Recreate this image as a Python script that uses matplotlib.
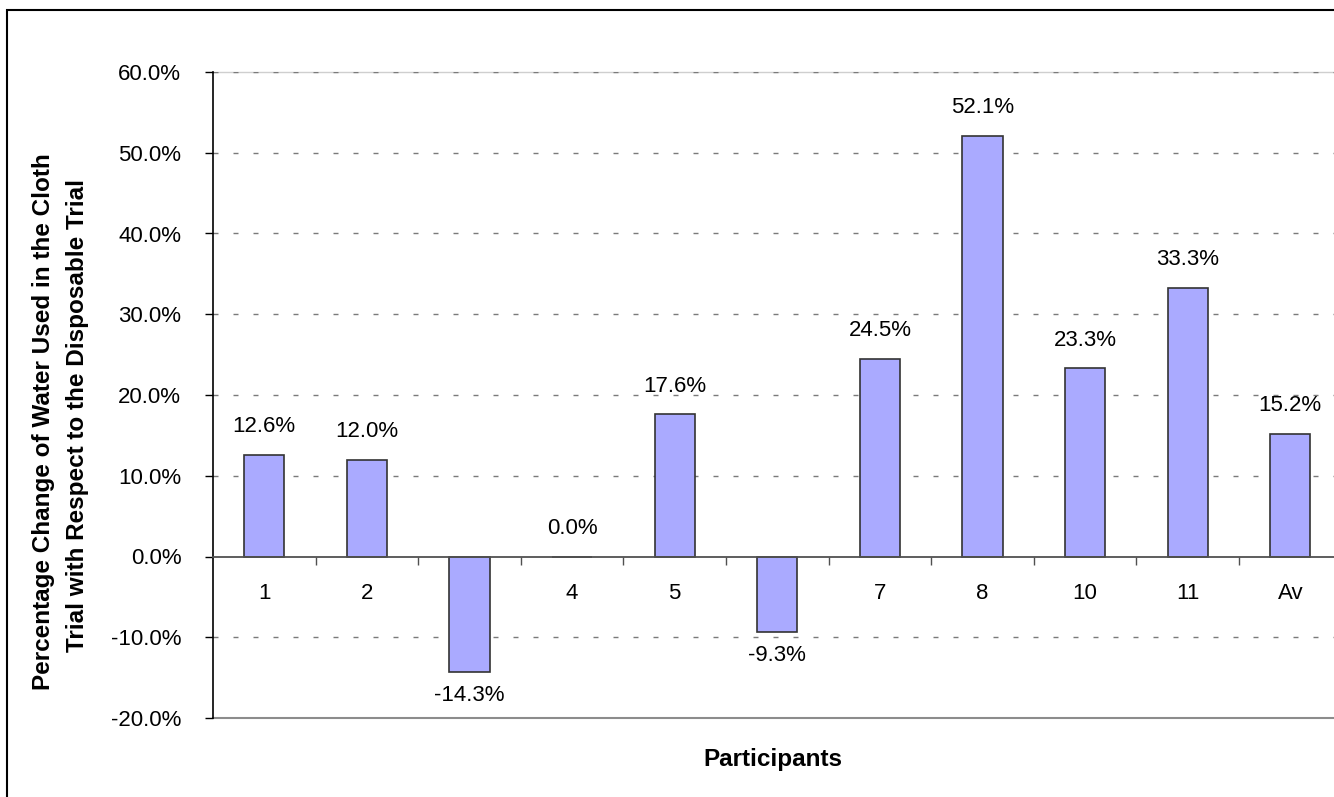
import matplotlib
matplotlib.use("Agg")
import matplotlib.pyplot as plt
from matplotlib.patches import Rectangle
from matplotlib.ticker import FixedLocator, FuncFormatter, NullFormatter

plt.rcParams['font.family'] = ['Liberation Sans', 'DejaVu Sans']

# Percentage change of water used, cloth trial vs disposable trial
participants = ["1", "2", "3", "4", "5", "6", "7", "8", "10", "11", "Av"]
change_pct = [12.6, 12.0, -14.3, 0.0, 17.6, -9.3, 24.5, 52.1, 23.3, 33.3, 15.2]
y_ticks = [-20, -10, 0, 10, 20, 30, 40, 50, 60]

W, H = 1334, 797
fig = plt.figure(figsize=(W / 100, H / 100), dpi=100)
fig.patch.set_facecolor("white")

# outer chart frame
fig.patches.append(Rectangle((7 / W, -0.1), 1.2, 1.1 - 10 / H,
                             transform=fig.transFigure, fill=False,
                             edgecolor="black", linewidth=1.5))

left, right = 213 / W, 1341.6 / W
top, bottom = 1 - 72 / H, 1 - 718 / H
ax = fig.add_axes([left, bottom, right - left, top - bottom])
ax.set_facecolor("white")

x = list(range(len(participants)))
ax.bar(x, change_pct, width=0.39, color="#AAAAFF", edgecolor="#333333",
       linewidth=1.2, zorder=2)

ax.set_xlim(-0.5, len(participants) - 0.5)
ax.set_ylim(-20, 60)

# horizontal dashed gridlines
for v in y_ticks:
    if v in (0, -20):
        continue
    ax.axhline(v, color="#7a7a7a", linewidth=1.0, dashes=(3.6, 10.8), zorder=1)
ax.axhline(60, color="#cfcfcf", linewidth=1.0, zorder=0.9, clip_on=False)
ax.axhline(-20, color="#8c8c8c", linewidth=1.5, zorder=1, clip_on=False)

# spines
for s in ("top", "right"):
    ax.spines[s].set_visible(False)
ax.spines["left"].set_color("black")
ax.spines["left"].set_linewidth(1.2)
ax.spines["bottom"].set_position(("data", 0))
ax.spines["bottom"].set_color("#505050")
ax.spines["bottom"].set_linewidth(1.3)
ax.spines["bottom"].set_zorder(3)

FS = 16
# y axis ticks
ax.set_yticks(y_ticks)
ax.yaxis.set_major_formatter(FuncFormatter(lambda v, p: f"{v:.1f}%"))
ax.tick_params(axis="y", direction="out", length=5.8, width=1.0,
               color="black", labelsize=FS, pad=17)

# x axis: tick marks between categories, labels at category centres
ax.xaxis.set_major_locator(FixedLocator([i + 0.5 for i in range(len(x) - 1)]))
ax.xaxis.set_major_formatter(NullFormatter())
ax.xaxis.set_minor_locator(FixedLocator(x))
ax.set_xticklabels(participants, minor=True)
ax.tick_params(axis="x", which="major", direction="out", length=5.8,
               width=1.0, color="#505050")
ax.tick_params(axis="x", which="minor", length=0, labelsize=FS, pad=19)
for lbl in ax.get_xticklabels(minor=True):
    lbl.set_zorder(4)

# value labels
for xi, v in zip(x, change_pct):
    if v >= 0:
        ax.annotate(f"{v:.1f}%", (xi, v), xytext=(0, 16.2),
                    textcoords="offset points", ha="center", va="baseline",
                    fontsize=FS, color="black")
    else:
        ax.annotate(f"{v:.1f}%", (xi, v), xytext=(0, -9.5),
                    textcoords="offset points", ha="center", va="top",
                    fontsize=FS, color="black")

# axis titles
TS = 17.5
fig.text(44 / W, 1 - 421.5 / H, "Percentage Change of Water Used in the Cloth",
         rotation=90, ha="center", va="center", fontsize=TS, fontweight="bold")
fig.text(78 / W, 1 - 415 / H, "Trial with Respect to the Disposable Trial",
         rotation=90, ha="center", va="center", fontsize=TS, fontweight="bold")
fig.text(772.5 / W, 1 - 766 / H, "Participants", ha="center", va="baseline",
         fontsize=TS, fontweight="bold")

fig.savefig("out.png", dpi=100)
